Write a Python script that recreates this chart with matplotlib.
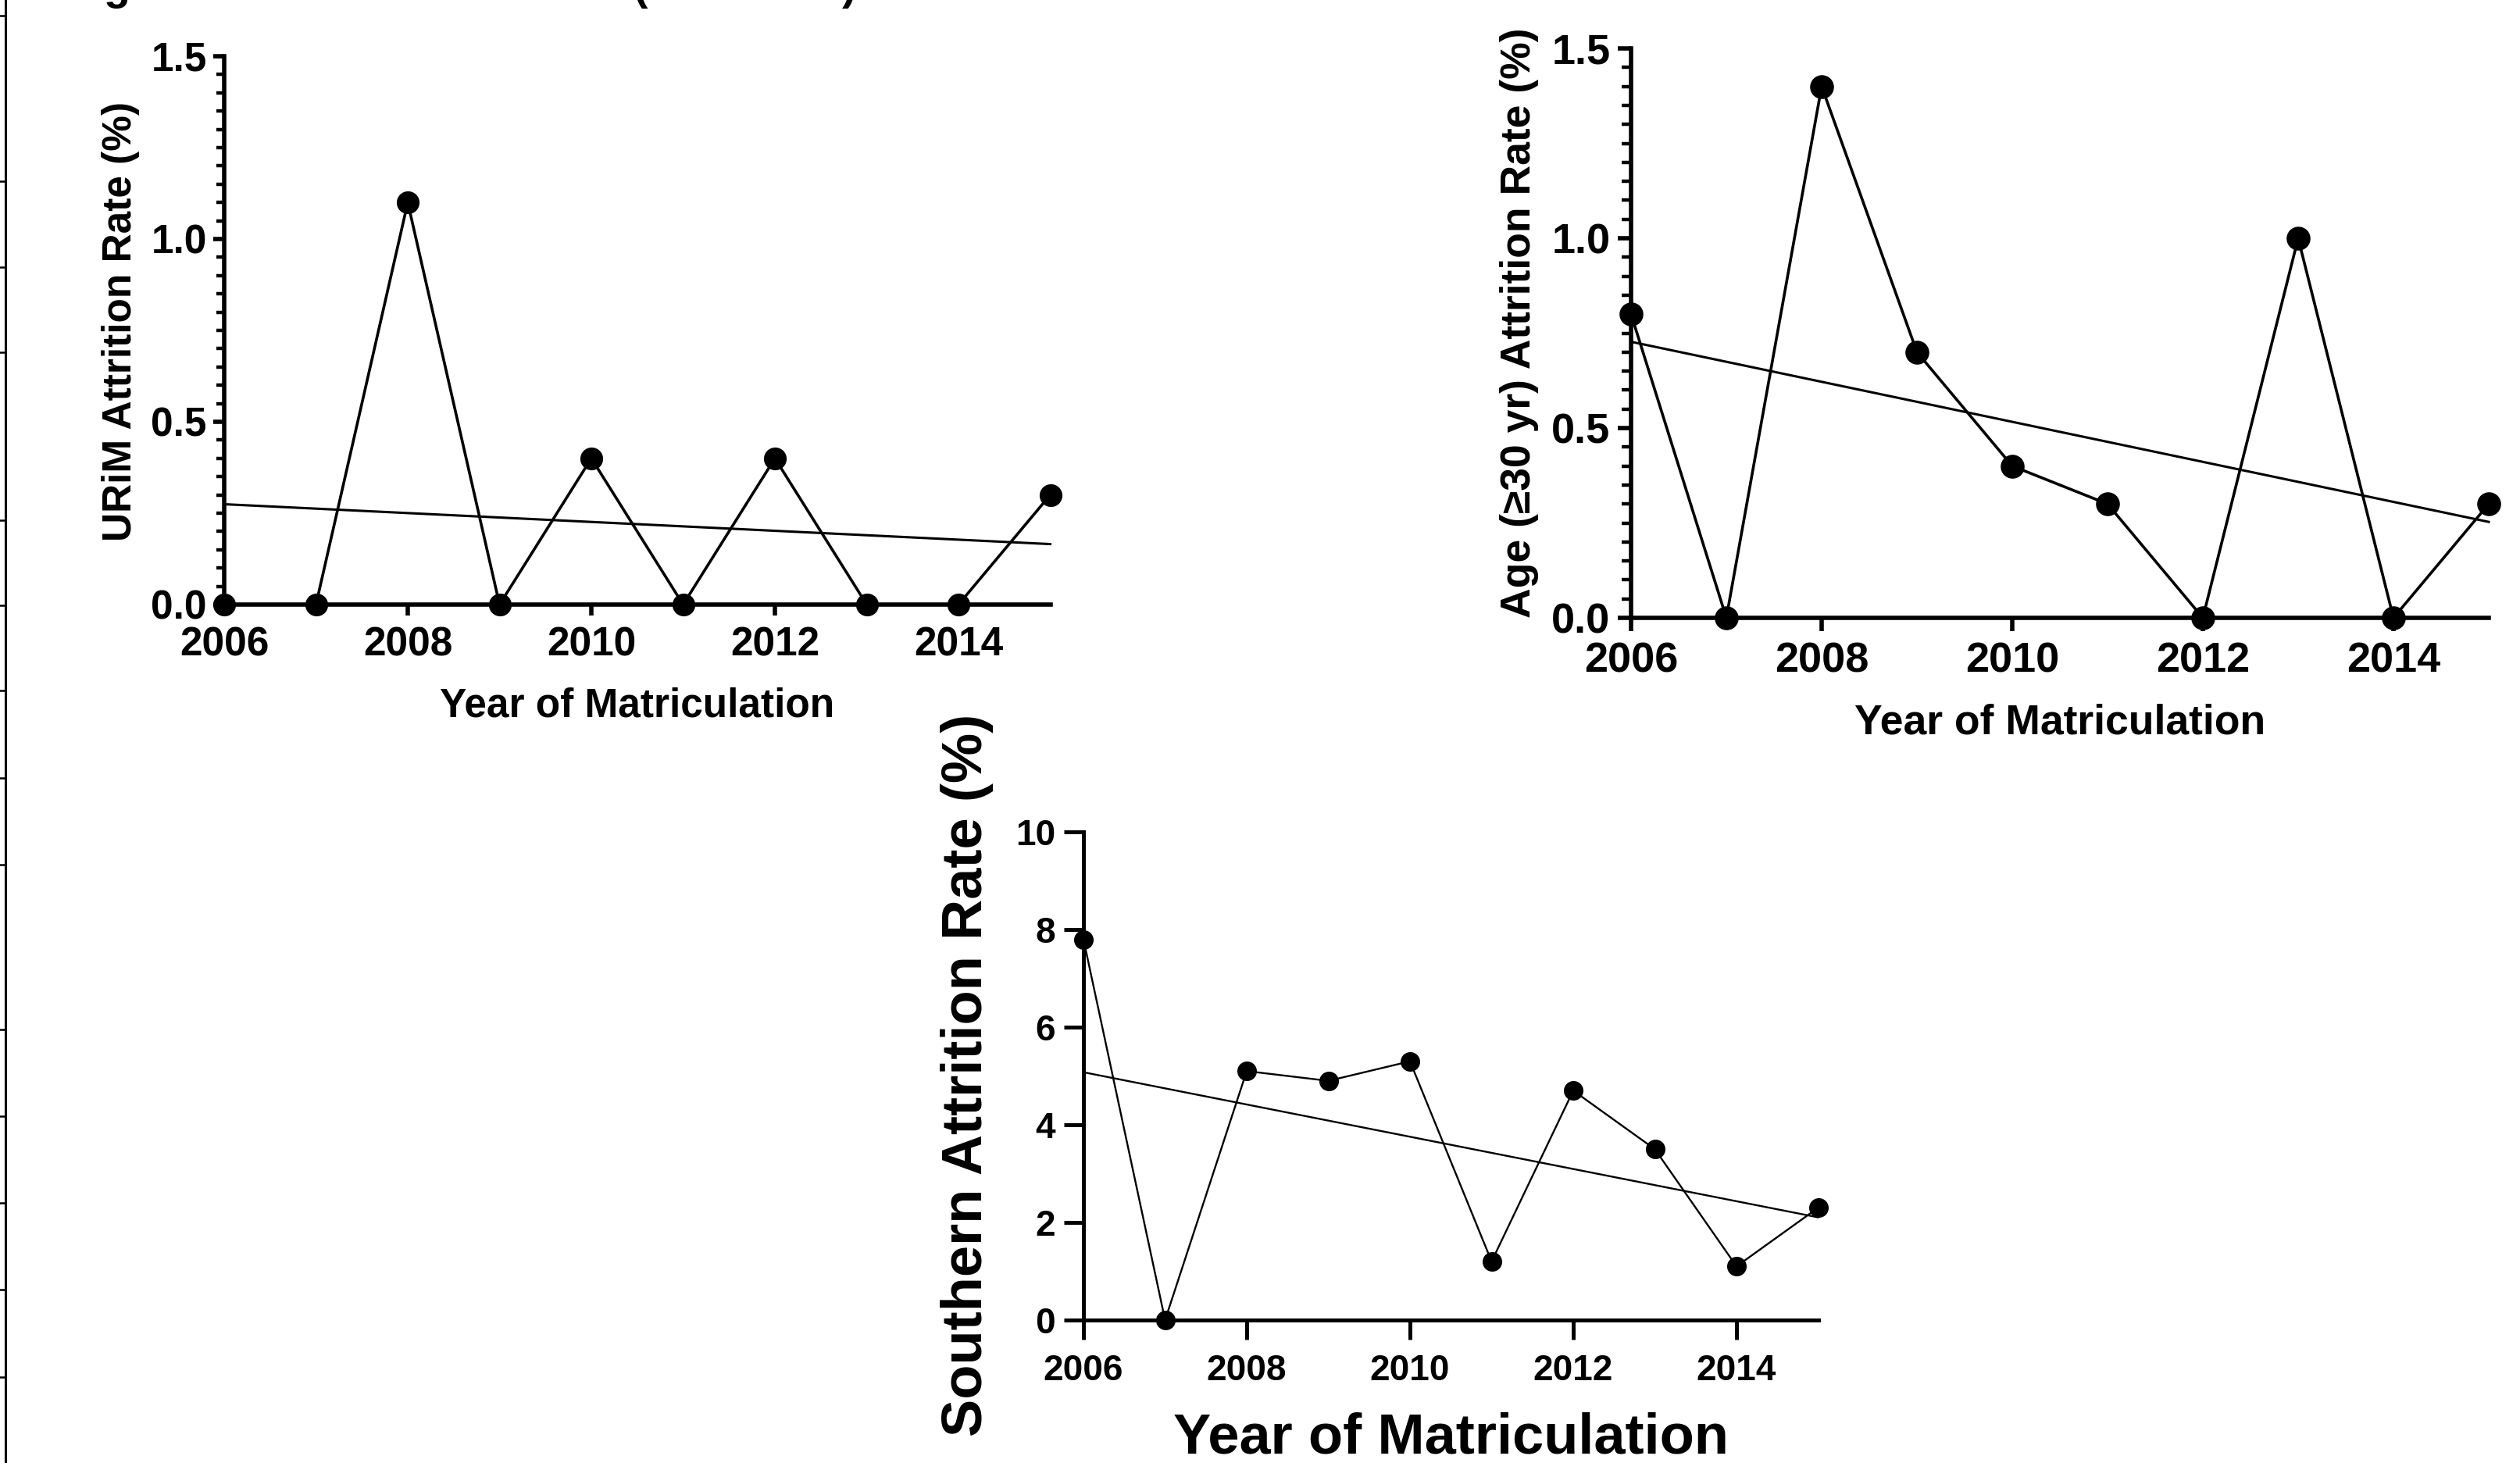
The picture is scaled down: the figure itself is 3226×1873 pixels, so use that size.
import numpy as np
import matplotlib
matplotlib.use('Agg')
import matplotlib.pyplot as plt
from matplotlib.ticker import MultipleLocator, FormatStrFormatter

plt.rcParams['font.family'] = ['Liberation Sans', 'DejaVu Sans']
plt.rcParams['font.weight'] = 'bold'
plt.rcParams['axes.labelweight'] = 'bold'

# datos
years = [2006, 2007, 2008, 2009, 2010, 2011, 2012, 2013, 2014, 2015]
urim = [0.0, 0.0, 1.1, 0.0, 0.4, 0.0, 0.4, 0.0, 0.0, 0.3]
age30 = [0.8, 0.0, 1.4, 0.7, 0.4, 0.3, 0.0, 1.0, 0.0, 0.3]
southern = [7.8, 0.0, 5.1, 4.9, 5.3, 1.2, 4.7, 3.5, 1.1, 2.3]
xticks = [2006, 2008, 2010, 2012, 2014]

W, H = 3226, 1873
fig = plt.figure(figsize=(W / 100, H / 100), dpi=100)


def px_axes(x0, x1, y_top, y_bot):
    return fig.add_axes([x0 / W, 1 - y_bot / H, (x1 - x0) / W, (y_bot - y_top) / H])


def panel(ax, vals, ymax, ystep, yminor, fmt, ylabel, s):
    ax.plot(years, vals, '-o', color='black', lw=s['lw'], ms=s['ms'],
            clip_on=False, zorder=3)
    # recta de regresion lineal
    coef = np.polyfit(years, vals, 1)
    xs = [years[0], years[-1]]
    ax.plot(xs, np.polyval(coef, xs), color='black', lw=s['tlw'], clip_on=False, zorder=2)
    ax.set_xlim(years[0], years[-1])
    ax.set_ylim(0, ymax)
    ax.set_xticks(xticks)
    ax.yaxis.set_major_locator(MultipleLocator(ystep))
    if yminor:
        ax.yaxis.set_minor_locator(MultipleLocator(yminor))
    ax.yaxis.set_major_formatter(FormatStrFormatter(fmt))
    for sp in ['top', 'right']:
        ax.spines[sp].set_visible(False)
    for sp in ['left', 'bottom']:
        ax.spines[sp].set_linewidth(s['spw'])
    ax.tick_params(axis='both', which='major', direction='out', width=s['spw'],
                   length=s['tl'], labelsize=s['fs'])
    ax.tick_params(axis='x', pad=s['xpad'])
    ax.tick_params(axis='y', pad=s['ypad'])
    ax.tick_params(axis='y', which='minor', direction='out', width=s['spw'] * 0.8,
                   length=s['mtl'])
    for lab in ax.get_xticklabels() + ax.get_yticklabels():
        lab.set_fontweight('bold')
    ax.set_xlabel('Year of Matriculation', fontsize=s['lfs'], fontweight='bold', va='center')
    ax.set_ylabel(ylabel, fontsize=s['lfs'], fontweight='bold', va='center')
    ax.xaxis.set_label_coords(0.5, s['xl'])
    ax.yaxis.set_label_coords(s['yl'][0], s['yl'][1])
    ax.patch.set_alpha(0)


# panel 1: URiM
ax1 = px_axes(287, 1344.5, 72, 774)
panel(ax1, urim, 1.5, 0.5, 0.05, '%.1f', 'URiM Attrition Rate (%)',
      dict(lw=2.6, tlw=2.2, ms=20, spw=4.0, tl=10, mtl=7, fs=37, lfs=37,
           xpad=10, ypad=6, xl=-0.185, yl=(-0.125, 0.516)))

# panel 2: edad
ax2 = px_axes(2088, 3186, 62, 791)
panel(ax2, age30, 1.5, 0.5, 0.05, '%.1f', 'Age (≥30 yr) Attrition Rate (%)',
      dict(lw=2.6, tlw=2.2, ms=21, spw=4.0, tl=12, mtl=9, fs=39, lfs=38.5,
           xpad=10, ypad=7, xl=-0.184, yl=(-0.130, 0.518)))

# panel 3: Southern
ax3 = px_axes(1387, 2327.5, 1065, 1690)
panel(ax3, southern, 10, 2, None, '%d', 'Southern Attrition Rate (%)',
      dict(lw=1.7, tlw=1.7, ms=17, spw=3.6, tl=18, mtl=0, fs=33, lfs=52,
           xpad=13, ypad=8, xl=-0.243, yl=(-0.158, 0.502)))

# borde recortado a la izquierda
frame_ticks_px = [20, 232, 342, 451, 666, 775, 884, 996, 1107, 1318, 1429, 1540, 1651, 1763]
fig.add_artist(plt.Line2D([7 / W, 7 / W], [0, 1], color='black', lw=2.2,
                          transform=fig.transFigure))
for yp in frame_ticks_px:
    fig.add_artist(plt.Line2D([0, 7 / W], [1 - yp / H, 1 - yp / H], color='black',
                              lw=1.8, transform=fig.transFigure))

# titulo cortado arriba
for s, xp in [('g', 133), ('(', 810), (')', 1078)]:
    fig.text(xp / W, 1 + 1 / H, s, fontsize=40, fontweight='bold', va='baseline', ha='left')

fig.savefig('out.png', dpi=100, facecolor='white')
